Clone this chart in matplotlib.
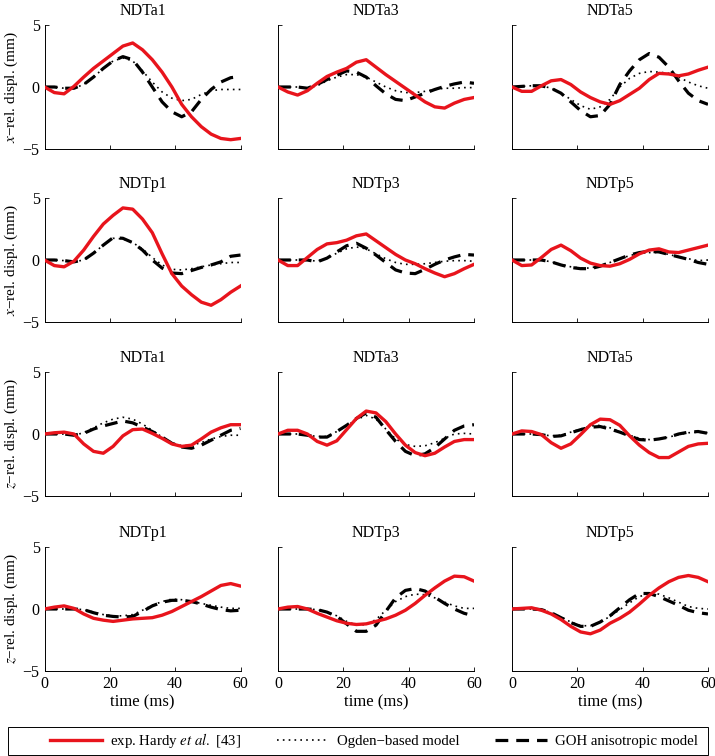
import numpy as np
import matplotlib.pyplot as plt
from matplotlib.patches import Rectangle

plt.rcParams['font.family'] = ['Liberation Serif', 'DejaVu Serif']
plt.rcParams['mathtext.fontset'] = 'stix'

# time samples (ms)
t = np.arange(0, 61, 3)

# x-rel. displacement, NDTa1 / NDTa3 / NDTa5
exp_x_a1 = [0, -0.45, -0.55, 0.05, 0.8, 1.5, 2.1, 2.7, 3.3, 3.55, 3.0, 2.2, 1.2, 0.0, -1.4, -2.4, -3.2, -3.8, -4.15, -4.25, -4.15]
ogd_x_a1 = [0, 0, -0.1, -0.1, 0.2, 0.8, 1.5, 2.1, 2.35, 2.1, 1.3, 0.4, -0.4, -0.9, -1.1, -1.0, -0.6, -0.3, -0.2, -0.2, -0.2]
goh_x_a1 = [0, 0, -0.1, -0.1, 0.2, 0.8, 1.5, 2.1, 2.45, 2.2, 1.2, 0.0, -1.2, -2.0, -2.4, -2.0, -1.0, -0.2, 0.4, 0.75, 0.85]

exp_x_a3 = [0, -0.4, -0.65, -0.3, 0.3, 0.85, 1.2, 1.5, 2.0, 2.2, 1.6, 1.0, 0.45, -0.1, -0.65, -1.2, -1.6, -1.7, -1.3, -1.0, -0.85]
ogd_x_a3 = [0, 0, 0, -0.1, 0.1, 0.5, 0.8, 1.0, 1.0, 0.8, 0.4, 0.0, -0.3, -0.45, -0.45, -0.35, -0.2, -0.1, -0.1, -0.05, -0.05]
goh_x_a3 = [0, 0, 0, -0.1, 0.2, 0.6, 0.95, 1.3, 1.2, 0.8, 0.1, -0.55, -1.0, -1.1, -0.8, -0.5, -0.2, 0.05, 0.25, 0.4, 0.3]

exp_x_a5 = [0, -0.35, -0.35, 0.1, 0.5, 0.6, 0.2, -0.4, -0.85, -1.2, -1.4, -1.1, -0.6, -0.1, 0.6, 1.1, 1.05, 0.9, 1.05, 1.35, 1.6]
ogd_x_a5 = [0, 0.05, 0.1, 0.1, -0.1, -0.5, -1.0, -1.5, -1.8, -1.6, -1.0, 0.0, 0.7, 1.1, 1.25, 1.2, 1.1, 0.8, 0.4, 0.1, -0.1]
goh_x_a5 = [0, 0.05, 0.1, 0.1, -0.1, -0.5, -1.2, -1.9, -2.4, -2.3, -1.4, 0.2, 1.3, 2.2, 2.7, 2.4, 1.6, 0.5, -0.5, -1.1, -1.4]

# x-rel. displacement, NDTp1 / NDTp3 / NDTp5
exp_x_p1 = [0, -0.45, -0.55, -0.1, 0.8, 1.9, 2.9, 3.6, 4.2, 4.1, 3.3, 2.2, 0.5, -1.1, -2.1, -2.8, -3.4, -3.65, -3.2, -2.6, -2.1]
ogd_x_p1 = [0, 0, -0.05, -0.15, 0.0, 0.55, 1.2, 1.75, 1.7, 1.4, 0.9, 0.2, -0.4, -0.75, -0.8, -0.7, -0.55, -0.4, -0.3, -0.2, -0.2]
goh_x_p1 = [0, 0, -0.05, -0.15, 0.0, 0.55, 1.2, 1.8, 1.75, 1.4, 0.8, 0.0, -0.65, -1.05, -1.1, -0.85, -0.6, -0.4, -0.15, 0.3, 0.4]

exp_x_p3 = [0, -0.45, -0.45, 0.2, 0.85, 1.3, 1.4, 1.6, 1.95, 2.1, 1.55, 1.0, 0.45, 0.0, -0.3, -0.7, -1.05, -1.35, -1.1, -0.7, -0.35]
ogd_x_p3 = [0, 0, 0, 0, -0.1, 0.15, 0.55, 0.9, 1.05, 0.9, 0.5, 0.1, -0.2, -0.35, -0.35, -0.3, -0.2, -0.1, -0.05, -0.05, -0.1]
goh_x_p3 = [0, 0, 0, 0, -0.15, 0.15, 0.65, 1.15, 1.35, 0.95, 0.4, -0.2, -0.8, -1.05, -1.1, -0.75, -0.35, 0.0, 0.25, 0.45, 0.4]

exp_x_p5 = [0, -0.45, -0.4, 0.2, 0.85, 1.2, 0.75, 0.15, -0.25, -0.45, -0.5, -0.3, 0.05, 0.5, 0.8, 0.9, 0.65, 0.6, 0.8, 1.0, 1.2]
ogd_x_p5 = [0, 0, 0, 0, -0.15, -0.35, -0.55, -0.65, -0.65, -0.45, -0.2, 0.1, 0.35, 0.55, 0.6, 0.6, 0.45, 0.25, 0.1, -0.05, 0.0]
goh_x_p5 = [0, 0, 0, 0, -0.15, -0.4, -0.6, -0.7, -0.7, -0.5, -0.2, 0.1, 0.4, 0.6, 0.7, 0.65, 0.45, 0.25, 0.05, -0.2, -0.35]

# z-rel. displacement, NDTa1 / NDTa3 / NDTa5
exp_z_a1 = [0, 0.1, 0.15, 0.0, -0.8, -1.4, -1.55, -1.0, -0.15, 0.35, 0.4, 0.05, -0.35, -0.8, -1.0, -0.9, -0.4, 0.15, 0.5, 0.75, 0.75]
ogd_z_a1 = [0, 0, 0, -0.1, 0.1, 0.5, 0.9, 1.2, 1.35, 1.2, 0.8, 0.3, -0.25, -0.7, -0.95, -0.9, -0.7, -0.4, -0.2, -0.1, -0.1]
goh_z_a1 = [0, 0, 0, -0.1, 0.05, 0.4, 0.65, 0.85, 1.05, 0.9, 0.55, 0.2, -0.25, -0.75, -1.05, -1.15, -0.9, -0.5, -0.1, 0.3, 0.45]

exp_z_a3 = [0, 0.3, 0.3, 0.0, -0.6, -0.9, -0.55, 0.35, 1.25, 1.85, 1.7, 1.0, 0.0, -0.9, -1.5, -1.75, -1.55, -1.05, -0.6, -0.45, -0.45]
ogd_z_a3 = [0, 0, 0, -0.1, -0.2, -0.2, 0.2, 0.65, 1.15, 1.5, 1.2, 0.4, -0.4, -0.85, -1.0, -0.95, -0.7, -0.35, 0.0, 0.05, 0.0]
goh_z_a3 = [0, 0, 0, -0.1, -0.25, -0.25, 0.2, 0.7, 1.25, 1.7, 1.35, 0.35, -0.6, -1.4, -1.75, -1.6, -1.1, -0.4, 0.3, 0.65, 0.75]

exp_z_a5 = [0, 0.25, 0.2, -0.05, -0.7, -1.15, -0.8, -0.05, 0.75, 1.2, 1.15, 0.7, -0.15, -0.9, -1.5, -1.9, -1.9, -1.45, -1.0, -0.8, -0.75]
ogd_z_a5 = [0, 0, 0, -0.05, -0.15, -0.1, 0.15, 0.4, 0.65, 0.7, 0.5, 0.2, -0.1, -0.35, -0.45, -0.4, -0.25, -0.05, 0.1, 0.15, 0.1]
goh_z_a5 = [0, 0, 0, -0.05, -0.2, -0.15, 0.1, 0.35, 0.55, 0.6, 0.4, 0.15, -0.15, -0.45, -0.5, -0.4, -0.25, 0.0, 0.15, 0.2, 0.05]

# z-rel. displacement, NDTp1 / NDTp3 / NDTp5
exp_z_p1 = [0, 0.15, 0.25, 0.05, -0.4, -0.75, -0.9, -1.0, -0.9, -0.8, -0.75, -0.7, -0.5, -0.2, 0.2, 0.6, 1.0, 1.45, 1.9, 2.05, 1.85]
ogd_z_p1 = [0, 0, 0, 0, -0.05, -0.25, -0.45, -0.55, -0.55, -0.45, -0.1, 0.3, 0.6, 0.8, 0.75, 0.6, 0.45, 0.3, 0.15, 0.05, 0.05]
goh_z_p1 = [0, 0, 0, 0, -0.05, -0.3, -0.5, -0.6, -0.65, -0.6, -0.2, 0.25, 0.55, 0.7, 0.7, 0.6, 0.4, 0.15, -0.05, -0.15, -0.1]

exp_z_p3 = [0, 0.15, 0.2, 0.0, -0.35, -0.65, -0.95, -1.15, -1.25, -1.2, -1.0, -0.8, -0.5, -0.1, 0.45, 1.1, 1.7, 2.25, 2.65, 2.6, 2.25]
ogd_z_p3 = [0, 0, 0, 0, -0.05, -0.25, -0.55, -1.0, -1.3, -1.25, -0.85, -0.1, 0.6, 1.0, 1.2, 1.15, 0.9, 0.55, 0.25, 0.05, 0.05]
goh_z_p3 = [0, 0, 0, 0, -0.05, -0.25, -0.6, -1.2, -1.8, -1.8, -1.3, -0.2, 0.9, 1.5, 1.65, 1.45, 0.95, 0.45, 0.0, -0.35, -0.55]

exp_z_p5 = [0, 0.05, 0.1, -0.1, -0.4, -0.85, -1.4, -1.85, -2.0, -1.7, -1.15, -0.75, -0.25, 0.4, 1.1, 1.7, 2.2, 2.55, 2.7, 2.55, 2.2]
ogd_z_p5 = [0, 0, 0, -0.05, -0.3, -0.65, -1.05, -1.35, -1.35, -1.05, -0.6, -0.05, 0.5, 1.0, 1.25, 1.2, 0.9, 0.55, 0.2, 0.05, 0.0]
goh_z_p5 = [0, 0, 0, -0.05, -0.3, -0.7, -1.1, -1.4, -1.4, -1.05, -0.55, 0.1, 0.75, 1.25, 1.25, 1.0, 0.65, 0.3, -0.1, -0.3, -0.4]

titles = [['NDTa1', 'NDTa3', 'NDTa5'],
          ['NDTp1', 'NDTp3', 'NDTp5'],
          ['NDTa1', 'NDTa3', 'NDTa5'],
          ['NDTp1', 'NDTp3', 'NDTp5']]
row_labels = ['$x$\u2212rel. displ. (mm)', '$x$\u2212rel. displ. (mm)',
              '$z$\u2212rel. displ. (mm)', '$z$\u2212rel. displ. (mm)']

panels = [[(exp_x_a1, ogd_x_a1, goh_x_a1), (exp_x_a3, ogd_x_a3, goh_x_a3), (exp_x_a5, ogd_x_a5, goh_x_a5)],
          [(exp_x_p1, ogd_x_p1, goh_x_p1), (exp_x_p3, ogd_x_p3, goh_x_p3), (exp_x_p5, ogd_x_p5, goh_x_p5)],
          [(exp_z_a1, ogd_z_a1, goh_z_a1), (exp_z_a3, ogd_z_a3, goh_z_a3), (exp_z_a5, ogd_z_a5, goh_z_a5)],
          [(exp_z_p1, ogd_z_p1, goh_z_p1), (exp_z_p3, ogd_z_p3, goh_z_p3), (exp_z_p5, ogd_z_p5, goh_z_p5)]]

W, H = 715, 756
fig = plt.figure(figsize=(W / 100, H / 100), dpi=100)

col_left = [44.5, 278, 512]
row_top = [25, 198, 372, 547]
aw, ah = 196, 124

for i in range(4):
    for j in range(3):
        ax = fig.add_axes([col_left[j] / W, 1 - (row_top[i] + ah) / H, aw / W, ah / H])
        e, o, g = panels[i][j]
        ax.plot(t, o, color='black', lw=1.2, ls=(0, (1, 2.5)), label='Ogden\u2212based model')
        ax.plot(t, g, color='black', lw=2.3, ls=(0, (4, 2.5)), label='GOH anisotropic model')
        ax.plot(t, e, color='#e8141c', lw=2.4, label='exp. Hardy $\\mathit{et\\ al.}$ [43]', zorder=3)
        ax.set_xlim(0, 60)
        ax.set_ylim(-5, 5)
        ax.set_xticks([0, 20, 40, 60])
        ax.set_yticks([-5, 0, 5])
        ax.tick_params(direction='in', length=3, labelsize=11.5, width=0.6)
        ax.spines['top'].set_visible(False)
        ax.spines['right'].set_visible(False)
        for s in ['left', 'bottom']:
            ax.spines[s].set_linewidth(0.7)
        ax.set_title(titles[i][j], fontsize=11.5, pad=7)
        if j == 0:
            ax.set_ylabel(row_labels[i], fontsize=11, labelpad=2)
        else:
            ax.set_yticklabels([])
        if i == 3:
            ax.set_xlabel('time (ms)', fontsize=12, labelpad=2)
        else:
            ax.set_xticklabels([])
        if i == 0 and j == 0:
            h, l = ax.get_legend_handles_labels()

# legend box spans the figure width, entries sit in it
fig.patches.append(Rectangle((8 / W, 1 / H), 700 / W, 28 / H, transform=fig.transFigure,
                             fill=False, edgecolor='black', lw=0.7))
order = [2, 0, 1]
leg = fig.legend([h[k] for k in order], [l[k] for k in order], ncol=3,
                 loc='center', bbox_to_anchor=(374 / W, 1 - 741 / H),
                 fontsize=10.7, handlelength=3.5, handletextpad=0.55, columnspacing=2.4,
                 frameon=False, borderaxespad=0)

fig.savefig('out.png', dpi=100)
